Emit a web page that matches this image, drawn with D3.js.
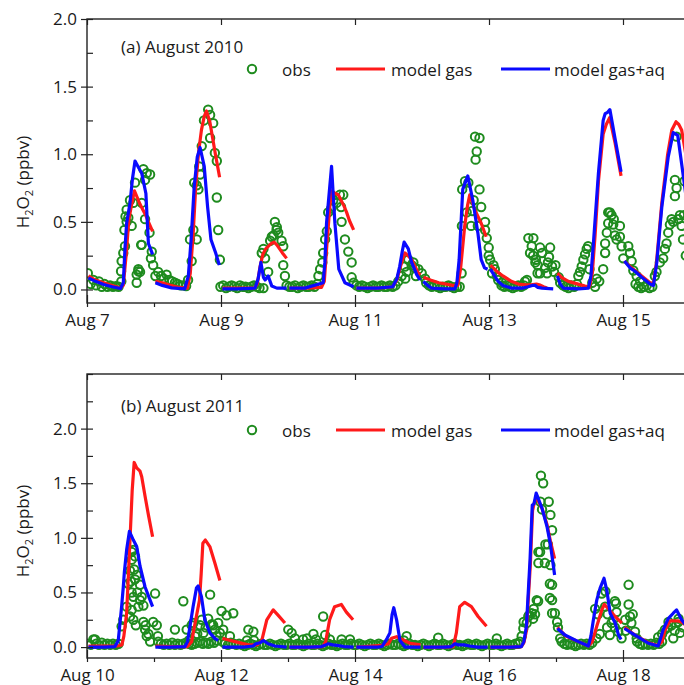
<!DOCTYPE html>
<html>
<head>
<meta charset="utf-8">
<script src="https://cdn.jsdelivr.net/npm/d3@7"></script>
<style>
  body { margin: 0; background: #fff; }
  svg text { font-family: "Open Sans", sans-serif; fill: #1a1a1a; }
</style>
</head>
<body>
<svg id="chart" width="684" height="685"></svg>
<script>
// ---- data: hours since the first day of each panel ----
// observation baseline runs: [start hour, hourly values]
var obsBase2010 = [
  [0.3, [0.12,0.04,0.07,0.03,0.06,0.02,0.04,0.02,0.03,0.02,0.025,0.02,0.06]],
  [24.5, [0.1,0.13,0.1,0.08,0.11,0.07,0.06,0.05,0.04,0.03,0.03,0.025]],
  [47.8, [0.02,0.03,0.01,0.02,0.03,0.02,0.01,0.03,0.02,0.02,0.01,0.02,0.03,0.02,0.01]],
  [71.5, [0.03,0.02,0.02,0.03,0.01,0.02,0.03,0.02,0.02,0.03,0.02,0.04]],
  [95.5, [0.05,0.03,0.02,0.03,0.02,0.01,0.02,0.03,0.02,0.02,0.03,0.02,0.02,0.03,0.02,0.03]],
  [121.5, [0.05,0.03,0.02,0.03,0.02,0.01,0.02,0.02,0.03,0.02,0.01,0.02,0.02]],
  [148.5, [0.03,0.02,0.03,0.02,0.01,0.02,0.03,0.02,0.03]],
  [169.5, [0.05,0.03,0.02,0.01,0.03,0.02,0.04]],
  [196.5, [0.04,0.02,0.01,0.02,0.03,0.01,0.02]]
];
// scattered observations: [hour, value]
var obsScatter2010 = [
  [12.2,0.135],[12.4,0.21],[13,0.27],[13.6,0.32],[13.4,0.44],[14.2,0.5],[14.8,0.53],[14.2,0.59],[13.8,0.54],
  [15.4,0.66],[16.6,0.64],[16,0.47],[17.2,0.79],[19.6,0.33],[18.4,0.15],[17.8,0.11],[17.8,0.05],[19,0.13],
  [19.4,0.33],[20.2,0.89],[21.4,0.86],[22.6,0.85],[20.8,0.81],[19.6,0.64],[20.8,0.52],[22.4,0.42],[23.2,0.28],
  [22.9,0.23],[23.7,0.18],[18.4,0.135],
  [36.2,0.07],[36.9,0.37],[37.5,0.21],[38.1,0.44],[38.4,0.79],[39.3,0.77],[39.3,0.37],[39.9,0.74],[40.2,0.91],
  [40.5,0.85],[41.1,1.06],[41.9,1.25],[43.4,1.33],[44.1,1.29],[45.2,1.23],[44.1,1.12],[45.8,1.01],[46.5,0.95],
  [46.5,0.68],[47,0.44],[47.6,0.22],
  [63.2,0.01],[62.6,0.27],[63.2,0.3],[63.8,0.23],[64.9,0.13],[65.6,0.36],[66.2,0.39],[67.3,0.5],[68,0.46],
  [68.5,0.42],[69.7,0.36],[70.3,0.32],[70.3,0.18],[70.9,0.1],[66.8,0.4],[67.9,0.44],
  [82.9,0.1],[83.5,0.15],[84.3,0.2],[84.6,0.27],[85.3,0.37],[85.9,0.43],[86.4,0.57],[88.2,0.66],[89.4,0.64],
  [90.6,0.7],[91.8,0.7],[91,0.61],[91.2,0.5],[92.4,0.37],[93.6,0.28],[94.8,0.2],[94.8,0.09],[87.5,0.6],
  [111.5,0.06],[112.7,0.1],[113.9,0.17],[114.5,0.13],[115.1,0.22],[116.3,0.18],[116.9,0.2],[117.5,0.16],
  [118.7,0.15],[119.9,0.12],[121.1,0.08],[114,0.08],[117.8,0.1],
  [134.2,0.12],[134.3,0.47],[134.4,0.74],[135.4,0.8],[136.6,0.79],[136,0.57],[137.6,0.47],[138,0.58],[138.5,0.66],
  [139,1.13],[139.6,1.02],[139.2,0.96],[140.6,1.12],[140.6,0.74],[141.2,0.61],[142.6,0.5],[142.6,0.44],
  [143.2,0.38],[143.9,0.31],[143.9,0.25],[140,0.47],
  [144.4,0.22],[145.1,0.12],[145.6,0.18],[146.1,0.15],[146.8,0.1],[147.3,0.07],[148.6,0.05],[156.9,0.06],
  [157.6,0.07],[158.1,0.38],[158.7,0.27],[159.3,0.32],[159.8,0.25],[159.9,0.38],[160.6,0.2],[160.8,0.22],
  [161.4,0.18],[161.4,0.12],[162.3,0.31],[162.3,0.12],[163,0.27],[164.1,0.16],[164.8,0.12],[165.1,0.2],
  [165.5,0.24],[165.9,0.31],[166.6,0.17],[167.3,0.13],[167.8,0.18],
  [169,0.09],[176,0.1],[176.6,0.13],[177.2,0.17],[177.8,0.22],[178.4,0.26],[179,0.3],[179.5,0.32],[180,0.15],
  [182,0.02],[182.6,0.08],[184.9,0.15],[185.6,0.27],[185.6,0.34],[186.2,0.42],[186.7,0.49],[186.7,0.57],
  [187.3,0.57],[187.9,0.55],[188.5,0.48],[188.7,0.52],[189.1,0.4],[189.7,0.37],[190.9,0.39],[190.9,0.47],
  [191.5,0.32],[192.1,0.23],[183.5,0.06],[181,0.05],
  [193.9,0.32],[194.5,0.27],[195.1,0.21],[195.7,0.14],[196.9,0.1],[198.1,0.06],[203.4,0.1],[204,0.13],
  [205.2,0.2],[206.4,0.23],[207,0.3],[207.6,0.34],[208.2,0.42],[208.8,0.48],[209.4,0.52],[210,0.5],
  [210.6,0.81],[211.2,0.75],[210.6,0.69],[211.8,0.52],[212.4,0.55],[213,0.47],[211.2,1.13],[213.5,0.37],
  [214,0.8],[214.5,0.25],[213.8,0.55]
];
// model runs, one segment per day: [hour of day, value]
var gas2010 = [
  [[0.5,0.10],[3,0.07],[6,0.05],[9,0.03],[12,0.01],[13,0.03],[14,0.25],[15,0.52],[16,0.63],[17,0.73],[18,0.68],[19,0.63],[20,0.59],[21,0.55],[22,0.5],[23.5,0.43]],
  [[0.5,0.06],[3,0.05],[6,0.03],[9,0.015],[12,0.01],[13,0.12],[14,0.4],[15,0.78],[16,1.02],[17,1.18],[18,1.28],[18.8,1.32],[20,1.24],[21,1.12],[22,1.0],[23.5,0.83]],
  [[0.5,0.01],[6,0.01],[12,0.01],[13,0.04],[14,0.17],[15,0.26],[16,0.3],[17,0.32],[18,0.34],[19,0.35],[20,0.33],[21,0.3],[22,0.27],[23.5,0.23]],
  [[0.5,0.01],[6,0.01],[12,0.015],[13,0.06],[14,0.35],[15,0.62],[15.6,0.73],[17,0.71],[18,0.7],[19,0.66],[20,0.62],[21,0.57],[22,0.51],[23.5,0.44]],
  [[0.5,0.01],[8,0.01],[13.5,0.02],[15,0.07],[16,0.15],[17,0.22],[17.9,0.27],[19,0.25],[20.3,0.22],[21.5,0.17],[22.7,0.12],[23.5,0.11]],
  [[0.5,0.09],[3,0.07],[6,0.05],[11.1,0.03],[12.8,0.03],[13.8,0.15],[15.3,0.47],[16.3,0.62],[17.1,0.7],[18.9,0.59],[21.2,0.49],[23,0.39]],
  [[0.5,0.18],[3,0.13],[5,0.1],[8,0.06],[10.5,0.04],[13,0.035],[15,0.035],[17,0.04],[18,0.035],[19.5,0.02],[20.8,0.01]],
  [[0.5,0.12],[2,0.09],[4.4,0.06],[7,0.045],[10.4,0.025],[12,0.02],[13,0.12],[14,0.4],[15.2,0.8],[16.9,1.15],[18,1.22],[19.2,1.27],[21.2,1.08],[23.3,0.84]],
  [[0.5,0.21],[2.5,0.17],[4.3,0.14],[6.7,0.1],[9.7,0.05],[10.9,0.04],[12,0.2],[13.9,0.64],[16,1.0],[17.5,1.18],[19,1.24],[20,1.22],[21,1.18],[22.5,1.0],[23.5,0.9]]
];
var aq2010 = [
  [[0.5,0.086],[3,0.06],[6,0.037],[9,0.02],[12,0.007],[13,0.05],[13.6,0.3],[14.2,0.49],[15.4,0.64],[16.3,0.82],[17.2,0.95],[18.5,0.9],[19.6,0.86],[21.1,0.71],[22,0.34],[23.5,0.26]],
  [[0.5,0.05],[3,0.03],[6.3,0.012],[11,0.005],[12.3,0.1],[13.3,0.37],[14.4,0.76],[15.5,0.98],[16.5,1.05],[18,0.91],[19.2,0.61],[20.4,0.37],[22.1,0.27],[23.4,0.18]],
  [[0.5,0.005],[6,0.005],[12.2,0.01],[13.3,0.08],[14.3,0.2],[15.2,0.09],[15.8,0.07],[16.9,0.1],[18.2,0.025],[20,0.01],[23.5,0.01]],
  [[0.5,0.01],[6,0.01],[12.6,0.05],[13.2,0.2],[13.8,0.49],[15.6,0.91],[16.8,0.49],[18.2,0.15],[20.4,0.05],[23.5,0.02]],
  [[0.5,0.01],[8,0.01],[13.5,0.02],[15,0.08],[16,0.17],[17,0.29],[17.6,0.35],[19.1,0.3],[20.3,0.2],[22.1,0.11],[23.3,0.07]],
  [[0.5,0.06],[2,0.03],[3.4,0.01],[8,0.005],[11.8,0.005],[12.5,0.05],[13.3,0.22],[14,0.5],[14.6,0.74],[16.4,0.84],[18.2,0.66],[20,0.42],[21.2,0.22],[22.4,0.16],[23.5,0.15]],
  [[0.5,0.15],[2,0.1],[3.3,0.06],[5,0.03],[8,0.01],[12,0.01],[14,0.02],[15.5,0.03],[16.5,0.03],[17.5,0.015],[19,0.01],[23,0.005]],
  [[0.5,0.1],[1.5,0.04],[2.6,0.01],[8,0.005],[11.6,0.01],[12.5,0.1],[13.4,0.34],[15.2,0.86],[16.9,1.25],[17.6,1.3],[18.5,1.31],[19.3,1.33],[21.2,1.11],[23.3,0.87]],
  [[0.5,0.21],[2.5,0.16],[4.3,0.135],[6.7,0.09],[9.7,0.04],[10.9,0.03],[12.1,0.2],[13.9,0.61],[16.2,0.98],[18,1.16],[19.6,1.14],[21,0.93],[22.5,0.7],[23.5,0.6]]
];

var obsBase2011 = [
  [0.3, [0.03,0.02,0.07,0.03,0.02,0.04,0.02,0.03,0.02,0.03,0.02,0.03]],
  [25.5, [0.05,0.03,0.02,0.03,0.02,0.04,0.02,0.03,0.02,0.03,0.04,0.03,0.02,0.03,0.04,0.05,0.03,0.04,0.03,0.05,0.04,0.06]],
  [48.5, [0.05,0.03,0.02,0.04,0.03,0.02,0.03,0.02,0.01,0.02,0.03,0.02,0.01,0.02,0.03,0.02,0.02,0.03,0.02,0.01,0.02,0.03,0.02,0.02]],
  [72.5, [0.03,0.02,0.02,0.03,0.02,0.01,0.02,0.03,0.02,0.02,0.03,0.02,0.01,0.02,0.03,0.02,0.02,0.01,0.02,0.03,0.02,0.02,0.03,0.02]],
  [96.5, [0.02,0.03,0.02,0.01,0.02,0.03,0.02,0.02,0.03,0.02,0.01,0.02,0.03,0.02,0.02,0.03,0.02,0.01,0.02,0.03,0.02,0.02,0.01,0.02]],
  [120.5, [0.03,0.02,0.01,0.02,0.03,0.02,0.02,0.03,0.02,0.01,0.02,0.03,0.02,0.02,0.01,0.02,0.03,0.02,0.02,0.03,0.02,0.01,0.02,0.03]],
  [144.5, [0.02,0.02,0.03,0.02,0.01,0.02,0.03,0.02,0.02,0.03,0.03]],
  [170, [0.05,0.03,0.02,0.03,0.02,0.01,0.02,0.03,0.02,0.03,0.02,0.04]],
  [197, [0.05,0.03,0.02,0.03,0.02,0.03,0.02,0.04,0.03,0.05]]
];
var obsScatter2011 = [
  [2.9,0.07],[12.4,0.19],[13,0.25],[14.2,0.37],[14.8,0.58],[15.4,0.7],[16,0.8],[16,0.87],[16.6,0.89],[17.2,0.83],
  [16.9,0.71],[17.2,0.62],[16,0.5],[17.8,0.66],[15.7,0.6],[19,0.57],[16.6,0.46],[16,0.34],[15.4,0.28],[16.6,0.25],
  [18.4,0.37],[19,0.43],[19.6,0.46],[20.2,0.38],[20.2,0.23],[20.8,0.16],[21.4,0.1],[22.6,0.05],[23.7,0.23],
  [24.4,0.49],[25,0.2],[25.4,0.1],[18,0.5],[17.5,0.2],[21,0.2],[22,0.12],
  [31.5,0.16],[34.5,0.42],[35.7,0.16],[36.5,0.06],[37.5,0.2],[38.1,0.22],[38.7,0.1],[40.5,0.2],[41.1,0.25],
  [41.7,0.13],[43.4,0.26],[44.1,0.48],[44.7,0.21],[45.2,0.2],[45.8,0.16],[46.4,0.1],[47,0.22],[47.6,0.13],
  [39.5,0.12],[42.5,0.18],
  [48.2,0.33],[48.8,0.16],[50,0.29],[51.2,0.1],[52.4,0.31],[57.3,0.06],[57.8,0.16],[59.6,0.14],[59.8,0.06],
  [72.1,0.16],[73.3,0.13],[74.5,0.08],
  [77.4,0.07],[78.8,0.08],[81.1,0.12],[82,0.07],[84.6,0.28],[85.3,0.11],[87,0.07],[91.2,0.07],[94.2,0.07],
  [114.5,0.1],[113.5,0.06],[125.8,0.085],
  [146.8,0.08],[155.1,0.05],[155.7,0.1],[156.3,0.17],[156.4,0.23],[157.5,0.22],[158.1,0.28],[158.3,0.29],
  [159.3,0.31],[159.8,0.26],[161.1,0.43],[161.6,0.42],[161.7,0.87],[161.7,0.77],[162.6,1.57],[163.4,1.5],
  [162.4,1.33],[163,1.26],[165.4,1.33],[166,1.21],[166.6,1.07],[164.2,0.94],[165.1,0.94],[164,0.77],
  [166,0.75],[166.6,0.57],[166.6,0.43],[166.6,0.31],[167.6,0.31],[168.4,0.23],[168.7,0.18],[169.5,0.08],
  [162.3,0.87],[165.8,0.58],[165.8,0.45],[160.5,0.3],[160,0.35],
  [182,0.35],[183,0.3],[183.7,0.12],[184.4,0.49],[185.6,0.37],[185.7,0.51],[186.3,0.18],[187.3,0.11],
  [187.9,0.22],[189.1,0.42],[189.5,0.4],[189.7,0.32],[189.1,0.18],[190.3,0.14],[191.5,0.08],[192.8,0.25],
  [194,0.57],[194,0.39],[194.5,0.28],[195,0.22],[196.3,0.14],[196.9,0.08],[182.5,0.08],[186.5,0.3],
  [188.5,0.25],[193,0.15],[195.5,0.3],
  [204.6,0.09],[206,0.12],[207,0.16],[208.2,0.18],[208.3,0.23],[209.4,0.2],[210.5,0.15],[211.8,0.23],
  [211.9,0.26],[212.4,0.13],[213.5,0.18],[210,0.08]
];
var gas2011 = [
  [[0.5,0.01],[6,0.01],[11,0.01],[12.5,0.02],[13.2,0.1],[14.2,0.31],[15.4,0.98],[16.2,1.44],[16.9,1.69],[17.8,1.64],[19,1.61],[19.6,1.56],[20.8,1.38],[22,1.21],[23.5,1.01]],
  [[0.5,0.01],[6,0.005],[12,0.005],[13.5,0.05],[14.5,0.19],[16.3,0.43],[16.9,0.67],[17.5,0.95],[18.4,0.98],[20,0.92],[21.8,0.77],[23.6,0.61]],
  [[0.5,0.08],[2,0.07],[5,0.05],[9.8,0.02],[13,0.02],[14.6,0.06],[16.4,0.25],[18.7,0.34],[20.5,0.29],[22.9,0.22]],
  [[0.5,0.0],[8,0.0],[12.5,0.005],[13.5,0.05],[14.9,0.25],[16.7,0.37],[19.1,0.39],[20.9,0.32],[23.3,0.25]],
  [[0.5,0.0],[6,0.01],[9.6,0.015],[12,0.03],[13.1,0.08],[14.9,0.095],[17.3,0.065],[19.7,0.035],[23.5,0.02]],
  [[0.5,0.0],[8,0.0],[11.2,0.005],[12.3,0.13],[13.5,0.37],[15.3,0.41],[17.7,0.37],[20.1,0.28],[23.1,0.19]],
  [[0.5,0.0],[8,0.0],[11.6,0.005],[12.5,0.04],[13.4,0.15],[14.8,0.75],[15.6,1.25],[16.3,1.33],[17,1.37],[19,1.27],[20.8,1.12],[22,0.97],[23.5,0.81]],
  [[0.5,0.18],[3.5,0.1],[8,0.05],[11.6,0.01],[13,0.05],[14.6,0.19],[16.4,0.34],[17.3,0.39],[18.8,0.35],[21.2,0.28],[23.6,0.22]],
  [[0.5,0.18],[4.3,0.11],[9.1,0.04],[12.6,0.015],[14,0.05],[15,0.15],[16.8,0.24],[19.7,0.24],[21,0.23],[22.5,0.2],[23.5,0.18]]
];
var aq2011 = [
  [[0.5,0.0],[6,0.0],[10,0.005],[11.2,0.06],[12.4,0.37],[13,0.55],[13.4,0.69],[14.2,0.89],[15.2,1.06],[16.6,0.98],[17.8,0.92],[19,0.74],[20.8,0.55],[22.6,0.43],[23.5,0.37]],
  [[0.5,0.0],[6,0.0],[11.1,0.005],[12,0.05],[12.9,0.19],[14,0.37],[15.2,0.54],[15.8,0.56],[17,0.46],[18.2,0.25],[20,0.13],[21.8,0.08],[23,0.06]],
  [[0.5,0.0],[8,0.0],[11.5,0.01],[12.5,0.03],[14,0.04],[15.2,0.06],[16.9,0.03],[19.3,0.01],[23.5,0.0]],
  [[0.5,0.0],[8,0.0],[12,0.005],[13.5,0.02],[14.4,0.03],[16,0.02],[17.5,0.015],[20,0.005],[23.5,0.0]],
  [[0.5,0.0],[8,0.0],[9.7,0.005],[11.5,0.08],[12.5,0.13],[13.3,0.3],[13.9,0.36],[14.9,0.25],[16.1,0.06],[17.9,0.0],[23.5,0.0]],
  [[0.5,0.0],[8,0.0],[10.5,0.005],[11.8,0.03],[13,0.02],[15,0.02],[17,0.01],[20,0.0],[23.5,0.0]],
  [[0.5,0.0],[8,0.0],[11.6,0.005],[12.5,0.05],[13.4,0.19],[14.7,0.8],[15.5,1.3],[16.1,1.31],[16.9,1.41],[19,1.27],[20.8,1.1],[22,0.94],[23.5,0.66]],
  [[0.5,0.17],[3.2,0.11],[8,0.05],[11.6,0.01],[12.5,0.1],[13.4,0.25],[14.6,0.43],[15.8,0.54],[17.2,0.63],[18.2,0.52],[19.4,0.31],[21.2,0.22],[22.4,0.11],[23.3,0.07]],
  [[0.5,0.17],[4.3,0.11],[9.1,0.035],[12.6,0.01],[14.4,0.16],[16.2,0.26],[18,0.31],[19.2,0.34],[21,0.25],[22.5,0.2],[23.5,0.18]]
];

var yTickValues = [0, 0.5, 1.0, 1.5, 2.0];
var labelHours = [0, 48, 96, 144, 192];
var legendNames = ["obs", "model gas", "model gas+aq"];

var GREEN = "#1e8b1e", RED = "#ff1a1a", BLUE = "#0a0aff";
var FONT = 17;

var svg = d3.select("#chart");
var left = 87, right = 690;
var x = d3.scaleLinear().domain([0, 216]).range([left, right]);

var panels = [
  { top: 19, bottom: 303, yMax: 2.0, firstDay: 7, title: "(a) August 2010", titleY: 53, legendY: 69,
    base: obsBase2010, scatter: obsScatter2010, gas: gas2010, aq: aq2010, titleCenter: 182 },
  { top: 374, bottom: 658, yMax: 2.5, firstDay: 10, title: "(b) August 2011", titleY: 412, legendY: 430,
    base: obsBase2011, scatter: obsScatter2011, gas: gas2011, aq: aq2011, titleCenter: 531 }
];

panels.forEach(function(p, i) {
  var y = d3.scaleLinear().domain([-0.1, p.yMax]).range([p.bottom, p.top]);
  var g = svg.append("g");

  g.append("clipPath").attr("id", "clip" + i)
    .append("rect").attr("x", left).attr("y", p.top)
    .attr("width", right - left).attr("height", p.bottom - p.top);

  var plot = g.append("g").attr("clip-path", "url(#clip" + i + ")");

  // observations
  var obs = [];
  p.base.forEach(function(run) {
    run[1].forEach(function(v, k) { obs.push([run[0] + k, v]); });
  });
  obs = obs.concat(p.scatter);

  plot.selectAll("circle.obs").data(obs).enter().append("circle")
    .attr("class", "obs")
    .attr("cx", function(d) { return x(d[0]); })
    .attr("cy", function(d) { return y(d[1]); })
    .attr("r", 4.2)
    .attr("fill", "none")
    .attr("stroke", GREEN)
    .attr("stroke-width", 2);

  var line = d3.line()
    .x(function(d) { return x(d[0]); })
    .y(function(d) { return y(d[1]); });

  function segs(series) {
    return series.map(function(seg, day) {
      return seg.map(function(pt) { return [day * 24 + pt[0], pt[1]]; });
    });
  }

  plot.selectAll("path.gas").data(segs(p.gas)).enter().append("path")
    .attr("class", "gas").attr("d", line)
    .attr("fill", "none").attr("stroke", RED).attr("stroke-width", 3.2)
    .attr("stroke-linejoin", "round");

  plot.selectAll("path.aq").data(segs(p.aq)).enter().append("path")
    .attr("class", "aq").attr("d", line)
    .attr("fill", "none").attr("stroke", BLUE).attr("stroke-width", 3.2)
    .attr("stroke-linejoin", "round");

  // axes
  var minorY = d3.range(0, p.yMax + 0.001, 0.25);
  var allDays = d3.range(0, 217, 24);

  var yAxis = g.append("g").attr("transform", "translate(" + left + ",0)")
    .call(d3.axisLeft(y).tickValues(yTickValues).tickFormat(d3.format(".1f"))
      .tickSize(6).tickPadding(4).tickSizeOuter(0));
  yAxis.select(".domain").remove();
  yAxis.selectAll("text").attr("font-size", FONT).attr("font-family", "'Open Sans', sans-serif");
  yAxis.selectAll("line").attr("stroke", "#222").attr("stroke-width", 1.2);

  var yIn = g.append("g").attr("transform", "translate(" + left + ",0)")
    .call(d3.axisRight(y).tickValues(minorY).tickFormat("").tickSize(6).tickSizeOuter(0));
  yIn.select(".domain").remove();
  yIn.selectAll("line").attr("stroke", "#222").attr("stroke-width", 1.2);

  var yRight = g.append("g").attr("transform", "translate(" + right + ",0)")
    .call(d3.axisLeft(y).tickValues(yTickValues).tickFormat("").tickSize(6).tickSizeOuter(0));
  yRight.select(".domain").remove();
  yRight.selectAll("line").attr("stroke", "#222").attr("stroke-width", 1.2);

  var xAxis = g.append("g").attr("transform", "translate(0," + p.bottom + ")")
    .call(d3.axisBottom(x).tickValues(labelHours)
      .tickFormat(function(h) { return "Aug " + (p.firstDay + h / 24); })
      .tickSize(-8).tickPadding(11).tickSizeOuter(0));
  xAxis.select(".domain").remove();
  xAxis.selectAll("text").attr("font-size", FONT).attr("font-family", "'Open Sans', sans-serif");
  xAxis.selectAll("line").attr("stroke", "#222").attr("stroke-width", 1.2);

  var xMinor = g.append("g").attr("transform", "translate(0," + p.bottom + ")")
    .call(d3.axisBottom(x).tickValues(allDays).tickFormat("").tickSize(4).tickSizeOuter(0));
  xMinor.select(".domain").remove();
  xMinor.selectAll("line").attr("stroke", "#222").attr("stroke-width", 1.2);

  var xTop = g.append("g").attr("transform", "translate(0," + p.top + ")")
    .call(d3.axisTop(x).tickValues(labelHours).tickFormat("").tickSize(-6).tickSizeOuter(0));
  xTop.select(".domain").remove();
  xTop.selectAll("line").attr("stroke", "#222").attr("stroke-width", 1.2);

  g.append("rect").attr("x", left).attr("y", p.top)
    .attr("width", right - left).attr("height", p.bottom - p.top)
    .attr("fill", "none").attr("stroke", "#222").attr("stroke-width", 1.4);

  // y title
  var yt = g.append("text")
    .attr("transform", "translate(29," + p.titleCenter + ") rotate(-90)")
    .attr("text-anchor", "middle").attr("font-size", FONT);
  yt.append("tspan").text("H");
  yt.append("tspan").attr("dy", 4).attr("font-size", 11).text("2");
  yt.append("tspan").attr("dy", -4).text("O");
  yt.append("tspan").attr("dy", 4).attr("font-size", 11).text("2");
  yt.append("tspan").attr("dy", -4).text(" (ppbv)");

  // panel title
  g.append("text").attr("x", 121).attr("y", p.titleY).attr("font-size", FONT).text(p.title);

  // legend
  var ly = p.legendY;
  g.append("circle").attr("cx", 252).attr("cy", ly).attr("r", 4.2)
    .attr("fill", "none").attr("stroke", GREEN).attr("stroke-width", 2);
  g.append("text").attr("x", 282).attr("y", ly + 6.5).attr("font-size", FONT).text(legendNames[0]);
  g.append("line").attr("x1", 336).attr("x2", 385).attr("y1", ly).attr("y2", ly)
    .attr("stroke", RED).attr("stroke-width", 3.2);
  g.append("text").attr("x", 391).attr("y", ly + 6.5).attr("font-size", FONT).text(legendNames[1]);
  g.append("line").attr("x1", 501).attr("x2", 550).attr("y1", ly).attr("y2", ly)
    .attr("stroke", BLUE).attr("stroke-width", 3.2);
  g.append("text").attr("x", 554).attr("y", ly + 6.5).attr("font-size", FONT).text(legendNames[2]);
});
</script>
</body>
</html>
